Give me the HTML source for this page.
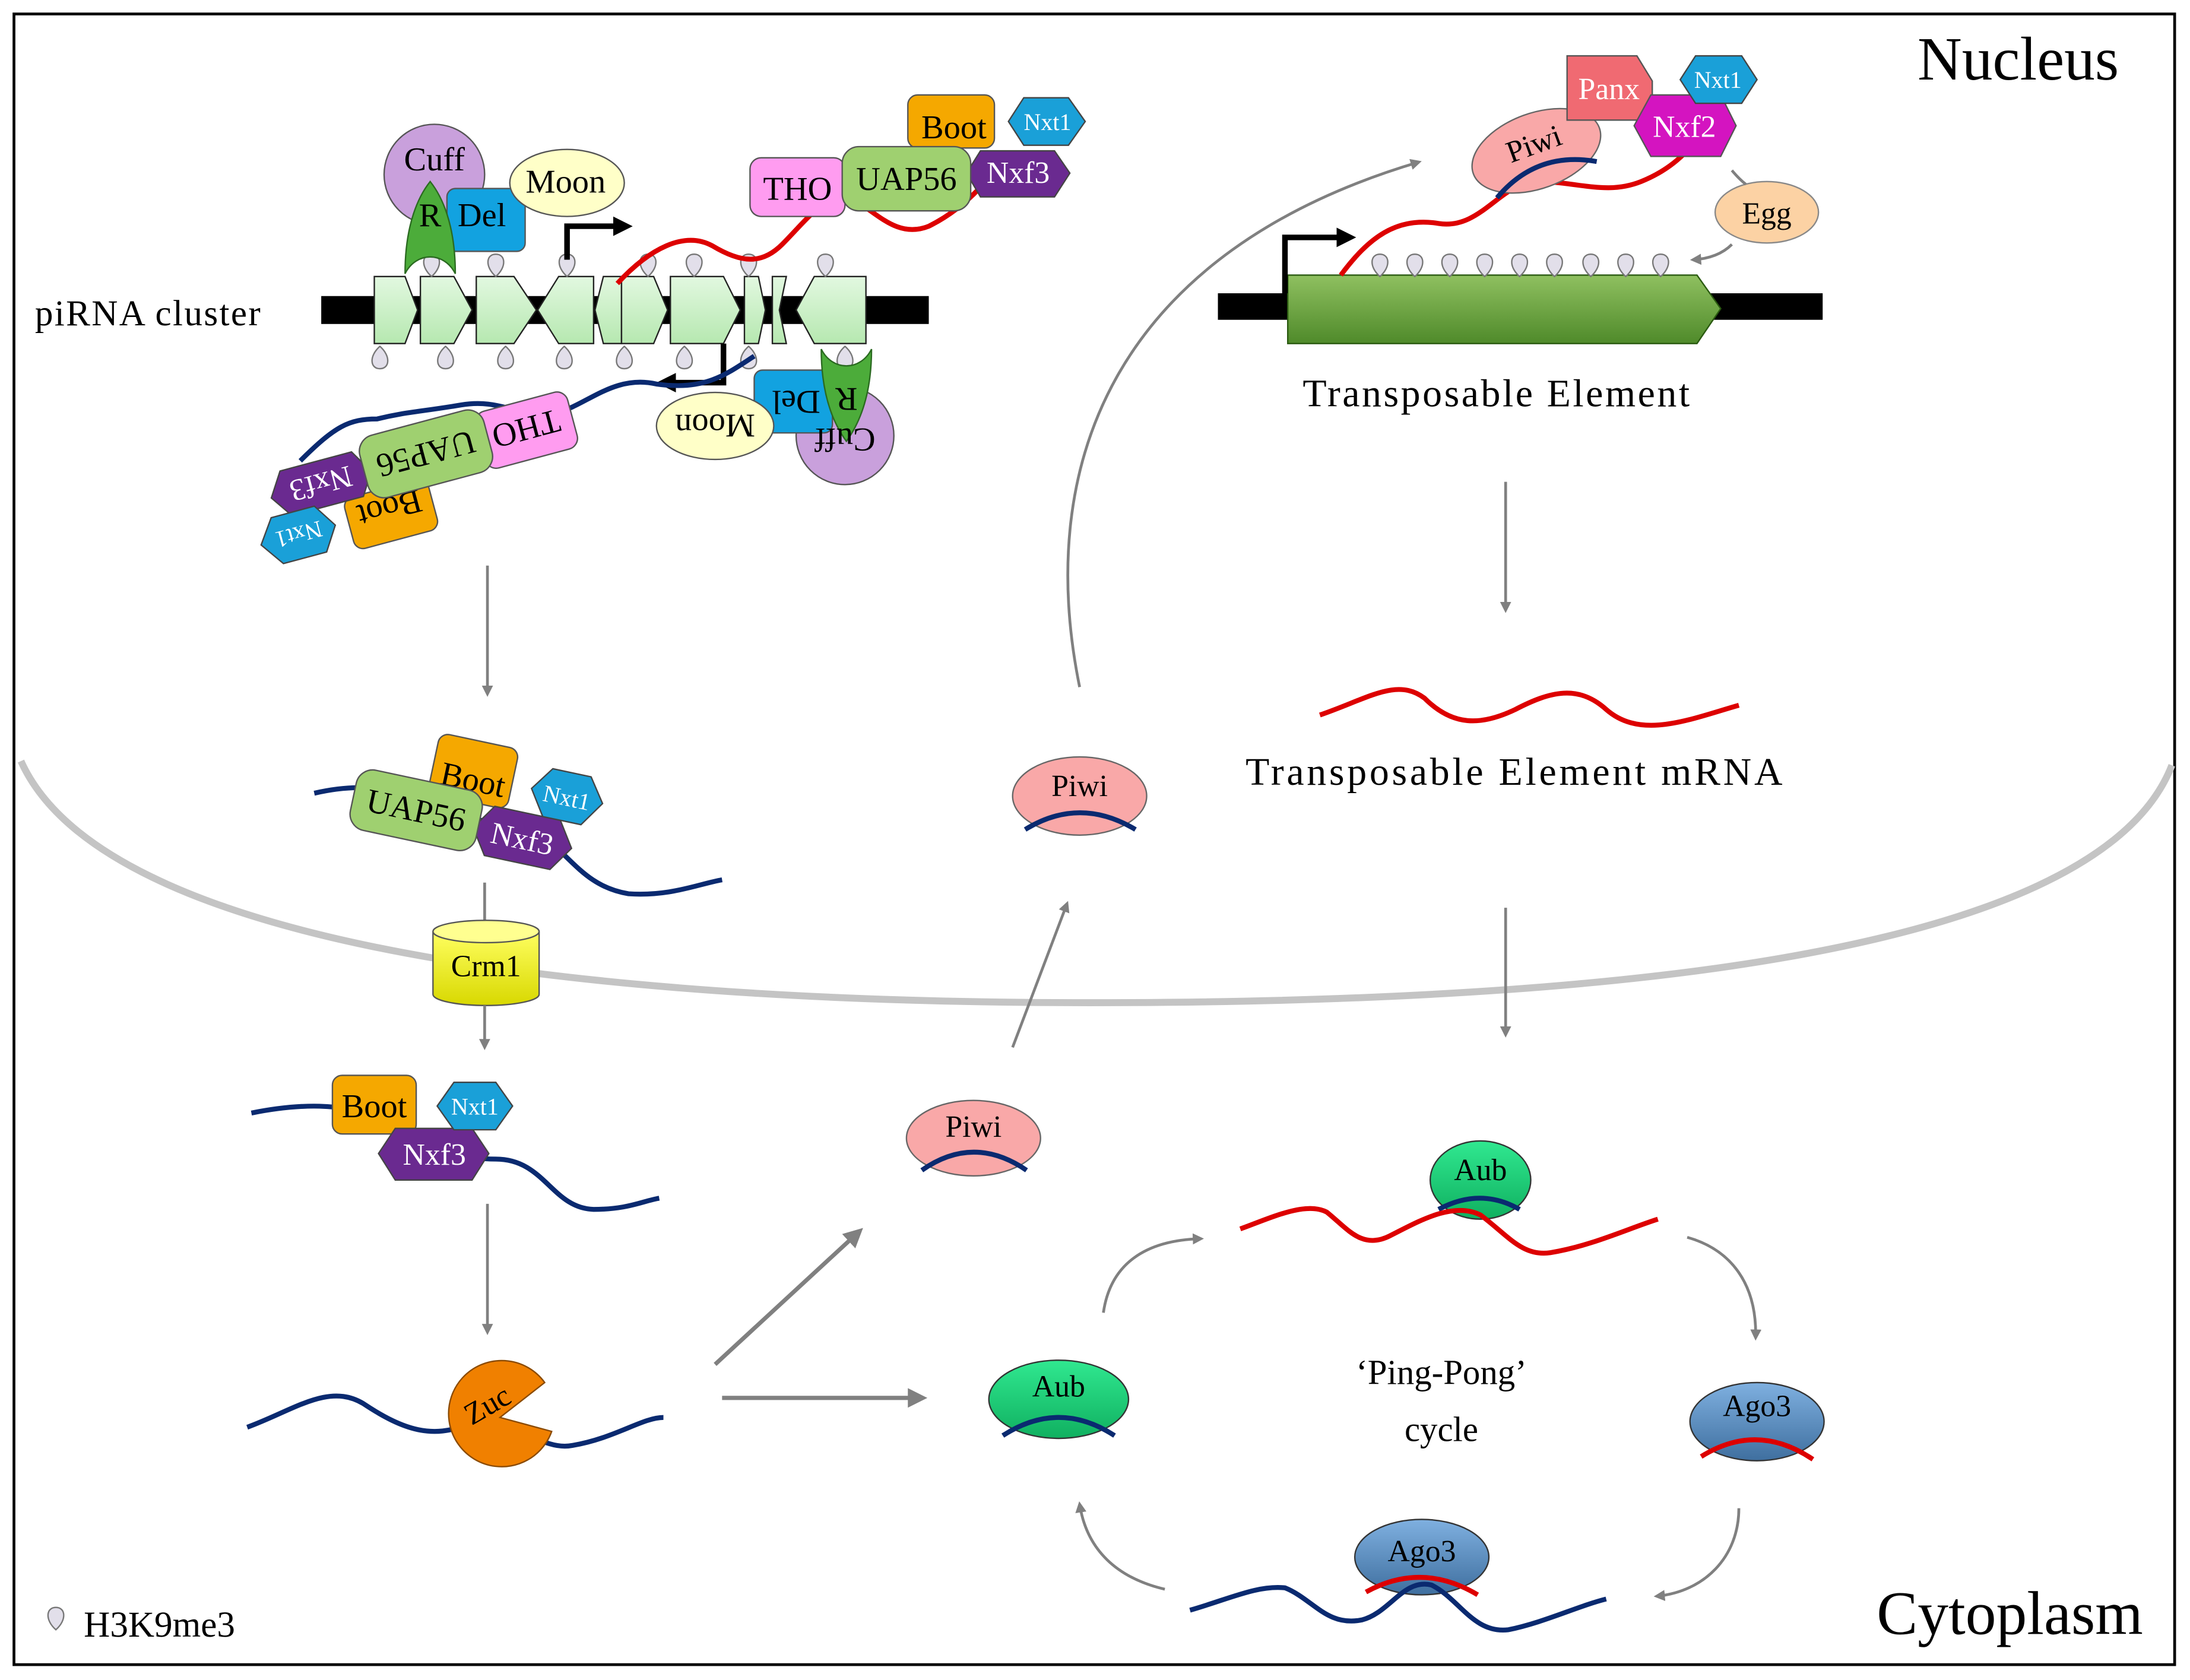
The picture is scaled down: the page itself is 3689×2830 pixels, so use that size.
<!DOCTYPE html>
<html><head><meta charset="utf-8"><style>
html,body{margin:0;padding:0;background:#fff}
svg{display:block}
text{font-family:"Liberation Serif",serif}
</style></head><body>
<svg width="3689" height="2830" viewBox="0 0 1568 1203" preserveAspectRatio="none" xmlns="http://www.w3.org/2000/svg">
<defs>
<marker id="ag" markerWidth="8" markerHeight="8" refX="6" refY="4" orient="auto" markerUnits="userSpaceOnUse"><path d="M0,0 L8,4 L0,8 Z" fill="#808080"/></marker>
<marker id="agb" markerWidth="14" markerHeight="14" refX="10" refY="7" orient="auto" markerUnits="userSpaceOnUse"><path d="M0,0 L14,7 L0,14 Z" fill="#808080"/></marker>
<marker id="ab" markerWidth="14" markerHeight="14" refX="6" refY="7" orient="auto" markerUnits="userSpaceOnUse"><path d="M0,0 L14,7 L0,14 Z" fill="#000"/></marker>
<path id="pd" d="M0,0 C-8,-7 -7,-16 0,-16 C7,-16 8,-7 0,0Z" fill="#e2dfea" stroke="#777" stroke-width="1"/>
<linearGradient id="gr" x1="0" y1="0" x2="0" y2="1"><stop offset="0" stop-color="#e2f8e0"/><stop offset="1" stop-color="#b6e8b0"/></linearGradient>
<linearGradient id="te" x1="0" y1="0" x2="0" y2="1"><stop offset="0" stop-color="#8fc060"/><stop offset="1" stop-color="#4f8a2a"/></linearGradient>
<linearGradient id="ago" x1="0" y1="0" x2="0" y2="1"><stop offset="0" stop-color="#7fb0e0"/><stop offset="1" stop-color="#3f6f9f"/></linearGradient>
<linearGradient id="aub" x1="0" y1="0" x2="0" y2="1"><stop offset="0" stop-color="#30e890"/><stop offset="1" stop-color="#10b060"/></linearGradient>
<linearGradient id="crm" x1="0" y1="0" x2="0" y2="1"><stop offset="0" stop-color="#ffff60"/><stop offset="1" stop-color="#d8d800"/></linearGradient>
</defs>
<rect x="10" y="10" width="1547" height="1182" fill="#fff" stroke="#000" stroke-width="2"/>

<path d="M15,545 C80,690 480,718 780,718 C1120,718 1500,690 1555,548" fill="none" stroke="#c4c4c4" stroke-width="5"/>

<text x="1445" y="57" font-size="44" text-anchor="middle">Nucleus</text>
<text x="1439" y="1170" font-size="44" text-anchor="middle">Cytoplasm</text>

<text x="25" y="233" font-size="26" letter-spacing="1">piRNA cluster</text>
<rect x="230" y="212" width="435" height="20" fill="#000"/>
<g fill="url(#gr)" stroke="#222" stroke-width="1">
<path d="M268,198 H290 L299,222 L290,246 H268 Z"/>
<path d="M301,198 H325 L338,222 L325,246 H301 Z"/>
<path d="M341,198 H368 L384,222 L368,246 H341 Z"/>
<path d="M400,198 H425 V246 H400 L385,222 Z"/>
<path d="M432,198 H445 V246 H432 L426,222 Z"/>
<path d="M445,198 H468 L478,222 L468,246 H445 Z"/>
<path d="M480,198 H518 L530,222 L518,246 H480 Z"/>
<path d="M533,198 H543 L548,222 L543,246 H533 Z"/>
<path d="M553,198 H563 L558,222 L563,246 H553 Z"/>
<path d="M583,198 H620 V246 H583 L570,222 Z"/>
</g>
<g>
<use href="#pd" x="309" y="198"/><use href="#pd" x="355" y="198"/><use href="#pd" x="406" y="198"/>
<use href="#pd" x="464" y="198"/><use href="#pd" x="497" y="198"/><use href="#pd" x="536" y="198"/><use href="#pd" x="591" y="198"/>
<use href="#pd" transform="translate(272,248) rotate(180)"/><use href="#pd" transform="translate(319,248) rotate(180)"/>
<use href="#pd" transform="translate(362,248) rotate(180)"/><use href="#pd" transform="translate(404,248) rotate(180)"/>
<use href="#pd" transform="translate(447,248) rotate(180)"/><use href="#pd" transform="translate(490,248) rotate(180)"/>
<use href="#pd" transform="translate(536,248) rotate(180)"/><use href="#pd" transform="translate(605,248) rotate(180)"/>
</g>
<path d="M406,186 V162 H445" fill="none" stroke="#000" stroke-width="4" marker-end="url(#ab)"/>
<path d="M442,203 C465,178 490,165 510,176 C530,188 545,190 560,175 C575,160 590,140 605,140 C625,148 640,172 665,162 C685,152 700,138 712,122" fill="none" stroke="#d00" stroke-width="3.5"/>
<circle cx="311" cy="125" r="36" fill="#c9a0dc" stroke="#555"/>
<rect x="320" y="135" width="56" height="45" rx="6" fill="#12a2e0" stroke="#555"/>
<ellipse cx="406" cy="131" rx="41" ry="24" fill="#ffffc8" stroke="#555"/>
<path d="M290,196 C290,160 300,140 308,130 C316,140 326,160 326,196 C318,180 298,180 290,196Z" fill="#4cac3a" stroke="#2a6a20"/>
<text x="311" y="122" font-size="24" text-anchor="middle">Cuff</text>
<text x="308" y="162" font-size="24" text-anchor="middle">R</text>
<text x="345" y="162" font-size="24" text-anchor="middle">Del</text>
<text x="405" y="138" font-size="24" text-anchor="middle">Moon</text>
<rect x="537" y="113" width="68" height="42" rx="8" fill="#ff9cf0" stroke="#555"/>
<text x="571" y="143" font-size="24" text-anchor="middle">THO</text>
<rect x="650" y="68" width="62" height="38" rx="7" fill="#f5a800" stroke="#555"/>
<text x="683" y="99" font-size="24" text-anchor="middle">Boot</text>
<polygon points="702,108 755,108 766,124 755,141 702,141 692,124" fill="#6a2a90" stroke="#444"/>
<text x="729" y="131" font-size="22" fill="#fff" text-anchor="middle">Nxf3</text>
<polygon points="733,70 765,70 777,87 765,104 733,104 722,87" fill="#1aa0d8" stroke="#444"/>
<text x="750" y="93" font-size="17" fill="#fff" text-anchor="middle">Nxt1</text>
<rect x="603" y="105" width="92" height="46" rx="12" fill="#9fd070" stroke="#555"/>
<text x="649" y="136" font-size="24" text-anchor="middle">UAP56</text>

<path d="M518,246 V274 H478" fill="none" stroke="#000" stroke-width="4" marker-end="url(#ab)"/>
<path d="M540,255 C520,268 505,280 470,275 C440,268 420,290 400,295 C370,300 360,285 330,290 C300,295 290,295 270,300 C250,300 240,305 215,330" fill="none" stroke="#0a2a70" stroke-width="3.5"/>
<g transform="rotate(165,377,308)">
<rect x="343" y="287" width="68" height="42" rx="8" fill="#ff9cf0" stroke="#555"/>
<text x="377" y="317" font-size="24" text-anchor="middle">THO</text></g>
<g transform="rotate(165,280,368)"><rect x="249" y="349" width="62" height="38" rx="7" fill="#f5a800" stroke="#555"/>
<text x="280" y="380" font-size="24" text-anchor="middle">Boot</text></g>
<g transform="rotate(165,230,347)"><polygon points="203,331 256,331 267,347 256,364 203,364 193,347" fill="#6a2a90" stroke="#444"/>
<text x="230" y="355" font-size="22" fill="#fff" text-anchor="middle">Nxf3</text></g>
<g transform="rotate(165,214,383)"><polygon points="198,366 230,366 242,383 230,400 198,400 187,383" fill="#1aa0d8" stroke="#444"/>
<text x="214" y="389" font-size="17" fill="#fff" text-anchor="middle">Nxt1</text></g>
<g transform="rotate(165,305,325)"><rect x="259" y="302" width="92" height="46" rx="12" fill="#9fd070" stroke="#555"/>
<text x="305" y="333" font-size="24" text-anchor="middle">UAP56</text></g>
<circle cx="605" cy="312" r="35" fill="#c9a0dc" stroke="#555"/>
<rect x="540" y="265" width="56" height="45" rx="6" fill="#12a2e0" stroke="#555"/>
<ellipse cx="512" cy="305" rx="42" ry="24" fill="#ffffc8" stroke="#555"/>
<path d="M588,250 C588,285 598,305 606,316 C614,305 624,285 624,250 C616,266 596,266 588,250Z" fill="#4cac3a" stroke="#2a6a20"/>
<g transform="rotate(180,605,315)"><text x="605" y="323" font-size="24" text-anchor="middle">Cuff</text></g>
<g transform="rotate(180,606,286)"><text x="606" y="294" font-size="24" text-anchor="middle">R</text></g>
<g transform="rotate(180,570,288)"><text x="570" y="296" font-size="24" text-anchor="middle">Del</text></g>
<g transform="rotate(180,512,305)"><text x="512" y="313" font-size="24" text-anchor="middle">Moon</text></g>

<line x1="349" y1="405" x2="349" y2="497" stroke="#808080" stroke-width="2" marker-end="url(#ag)"/>
<path d="M225,568 C260,560 280,565 300,575 C330,590 360,585 390,600 C410,615 420,635 450,640 C480,642 500,633 517,630" fill="none" stroke="#0a2a70" stroke-width="3.5"/>
<g transform="rotate(12,338,552)"><rect x="310" y="530" width="58" height="44" rx="7" fill="#f5a800" stroke="#555"/>
<text x="340" y="566" font-size="24" text-anchor="middle">Boot</text></g>
<g transform="rotate(12,374,600)"><polygon points="350,582 398,582 410,600 398,618 350,618 338,600" fill="#6a2a90" stroke="#444"/>
<text x="374" y="608" font-size="22" fill="#fff" text-anchor="middle">Nxf3</text></g>
<g transform="rotate(12,406,570)"><polygon points="392,553 420,553 432,570 420,588 392,588 380,570" fill="#1aa0d8" stroke="#444"/>
<text x="406" y="577" font-size="17" fill="#fff" text-anchor="middle">Nxt1</text></g>
<g transform="rotate(12,297,580)"><rect x="252" y="558" width="92" height="44" rx="12" fill="#9fd070" stroke="#555"/>
<text x="298" y="588" font-size="24" text-anchor="middle">UAP56</text></g>
<line x1="347" y1="632" x2="347" y2="662" stroke="#808080" stroke-width="2"/>
<path d="M310,667 V712 A38,8 0 0 0 386,712 V667" fill="url(#crm)" stroke="#555"/>
<ellipse cx="348" cy="667" rx="38" ry="8" fill="#ffff90" stroke="#555"/>
<text x="348" y="699" font-size="22" text-anchor="middle">Crm1</text>
<line x1="347" y1="720" x2="347" y2="750" stroke="#808080" stroke-width="2" marker-end="url(#ag)"/>

<path d="M180,797 C215,790 245,790 270,800 C300,815 320,830 355,830 C390,830 395,865 425,866 C450,866 460,860 472,858" fill="none" stroke="#0a2a70" stroke-width="3.5"/>
<rect x="238" y="770" width="60" height="42" rx="7" fill="#f5a800" stroke="#555"/>
<text x="268" y="800" font-size="24" text-anchor="middle">Boot</text>
<polygon points="283,808 338,808 350,826 338,845 283,845 271,826" fill="#6a2a90" stroke="#444"/>
<text x="311" y="834" font-size="22" fill="#fff" text-anchor="middle">Nxf3</text>
<polygon points="325,775 355,775 367,792 355,809 325,809 313,792" fill="#1aa0d8" stroke="#444"/>
<text x="340" y="798" font-size="17" fill="#fff" text-anchor="middle">Nxt1</text>
<line x1="349" y1="862" x2="349" y2="954" stroke="#808080" stroke-width="2" marker-end="url(#ag)"/>

<path d="M177,1022 C210,1010 235,990 260,1005 C290,1025 310,1030 335,1020 C365,1010 385,1040 410,1035 C440,1030 460,1015 475,1015" fill="none" stroke="#0a2a70" stroke-width="3.5"/>
<path d="M358,1015 L390,990 A38,38 0 1 0 395,1025 Z" fill="#f08000" stroke="#8a4a00"/>
<text x="350" y="1013" font-size="22" text-anchor="middle" transform="rotate(-30,350,1008)">Zuc</text>

<line x1="512" y1="977" x2="615" y2="882" stroke="#808080" stroke-width="3" marker-end="url(#agb)"/>
<line x1="517" y1="1001" x2="660" y2="1001" stroke="#808080" stroke-width="3" marker-end="url(#agb)"/>

<ellipse cx="697" cy="815" rx="48" ry="27" fill="#f9a8a8" stroke="#666"/>
<text x="697" y="814" font-size="22" text-anchor="middle">Piwi</text>
<path d="M660,838 Q697,812 735,838" fill="none" stroke="#0a2a70" stroke-width="3.5"/>
<line x1="725" y1="750" x2="764" y2="647" stroke="#808080" stroke-width="2" marker-end="url(#ag)"/>
<ellipse cx="773" cy="570" rx="48" ry="28" fill="#f9a8a8" stroke="#666"/>
<text x="773" y="570" font-size="22" text-anchor="middle">Piwi</text>
<path d="M734,594 Q773,570 813,594" fill="none" stroke="#0a2a70" stroke-width="3.5"/>
<path d="M773,492 C740,330 800,180 1016,116" fill="none" stroke="#808080" stroke-width="2" marker-end="url(#ag)"/>

<rect x="872" y="210" width="433" height="19" fill="#000"/>
<path d="M922,197 H1215 L1232,221 L1215,246 H922 Z" fill="url(#te)" stroke="#2a5a10"/>
<path d="M920,210 V170 H963" fill="none" stroke="#000" stroke-width="4" marker-end="url(#ab)"/>
<g>
<use href="#pd" x="988" y="198"/><use href="#pd" x="1013" y="198"/><use href="#pd" x="1038" y="198"/><use href="#pd" x="1063" y="198"/>
<use href="#pd" x="1088" y="198"/><use href="#pd" x="1113" y="198"/><use href="#pd" x="1139" y="198"/><use href="#pd" x="1164" y="198"/><use href="#pd" x="1189" y="198"/>
</g>
<path d="M960,197 C980,170 1000,155 1030,160 C1060,165 1075,130 1100,130 C1130,130 1150,140 1175,130 C1200,120 1210,105 1218,98" fill="none" stroke="#d00" stroke-width="3.5"/>
<g transform="rotate(-20,1100,108)">
<ellipse cx="1100" cy="108" rx="48" ry="27" fill="#f9a8a8" stroke="#666"/>
<text x="1100" y="110" font-size="22" text-anchor="middle">Piwi</text>
<path d="M1062,130 Q1100,108 1138,130" fill="none" stroke="#0a2a70" stroke-width="3.5"/></g>
<path d="M1122,40 H1172 L1183,58 V86 H1122 Z" fill="#f06a72" stroke="#555"/>
<text x="1152" y="71" font-size="22" fill="#fff" text-anchor="middle">Panx</text>
<polygon points="1182,68 1232,68 1243,90 1232,112 1182,112 1170,90" fill="#d414c0" stroke="#555"/>
<text x="1206" y="98" font-size="22" fill="#fff" text-anchor="middle">Nxf2</text>
<polygon points="1214,40 1247,40 1258,57 1247,74 1214,74 1203,57" fill="#1aa0d8" stroke="#444"/>
<text x="1230" y="63" font-size="17" fill="#fff" text-anchor="middle">Nxt1</text>
<ellipse cx="1265" cy="152" rx="37" ry="22" fill="#fcd2a4" stroke="#888"/>
<text x="1265" y="160" font-size="22" text-anchor="middle">Egg</text>
<path d="M1240,122 Q1245,128 1250,132" fill="none" stroke="#808080" stroke-width="2"/>
<path d="M1240,175 Q1230,185 1212,186" fill="none" stroke="#808080" stroke-width="2" marker-end="url(#ag)"/>
<text x="1072" y="291" font-size="28" letter-spacing="1.5" text-anchor="middle">Transposable Element</text>
<line x1="1078" y1="345" x2="1078" y2="437" stroke="#808080" stroke-width="2" marker-end="url(#ag)"/>
<path d="M945,512 C980,500 1000,485 1020,500 C1040,520 1060,520 1085,508 C1110,495 1130,490 1150,508 C1175,530 1210,515 1245,505" fill="none" stroke="#d00" stroke-width="3.5"/>
<text x="1085" y="562" font-size="28" letter-spacing="2" text-anchor="middle">Transposable Element mRNA</text>
<line x1="1078" y1="650" x2="1078" y2="741" stroke="#808080" stroke-width="2" marker-end="url(#ag)"/>

<ellipse cx="758" cy="1002" rx="50" ry="28" fill="url(#aub)" stroke="#333"/>
<text x="758" y="1000" font-size="22" text-anchor="middle">Aub</text>
<path d="M718,1028 Q758,1002 798,1028" fill="none" stroke="#0a2a70" stroke-width="3.5"/>
<ellipse cx="1060" cy="845" rx="36" ry="28" fill="url(#aub)" stroke="#333"/>
<text x="1060" y="845" font-size="22" text-anchor="middle">Aub</text>
<path d="M1030,866 Q1060,850 1088,866" fill="none" stroke="#0a2a70" stroke-width="3.5"/>
<path d="M888,880 C910,872 935,860 950,868 C965,880 975,895 995,885 C1015,875 1040,860 1060,870 C1080,885 1090,900 1110,897 C1140,892 1165,880 1187,873" fill="none" stroke="#d00" stroke-width="3.5"/>
<ellipse cx="1258" cy="1018" rx="48" ry="28" fill="url(#ago)" stroke="#333"/>
<text x="1258" y="1014" font-size="22" text-anchor="middle">Ago3</text>
<path d="M1218,1043 Q1258,1018 1298,1045" fill="none" stroke="#d00" stroke-width="3.5"/>
<ellipse cx="1018" cy="1115" rx="48" ry="27" fill="url(#ago)" stroke="#333"/>
<text x="1018" y="1118" font-size="22" text-anchor="middle">Ago3</text>
<path d="M852,1153 C880,1145 900,1135 920,1137 C940,1145 950,1165 975,1160 C995,1155 1005,1130 1025,1135 C1045,1145 1055,1170 1080,1167 C1105,1162 1130,1150 1150,1145" fill="none" stroke="#0a2a70" stroke-width="3.5"/>
<path d="M978,1140 Q1018,1118 1058,1142" fill="none" stroke="#d00" stroke-width="3.5"/>
<text x="1032" y="991" font-size="25" text-anchor="middle">‘Ping-Pong’</text>
<text x="1032" y="1032" font-size="25" text-anchor="middle">cycle</text>
<path d="M790,940 C795,905 820,888 860,887" fill="none" stroke="#808080" stroke-width="2" marker-end="url(#ag)"/>
<path d="M1208,886 C1240,895 1258,920 1257,958" fill="none" stroke="#808080" stroke-width="2" marker-end="url(#ag)"/>
<path d="M1245,1080 C1245,1115 1220,1140 1186,1143" fill="none" stroke="#808080" stroke-width="2" marker-end="url(#ag)"/>
<path d="M834,1138 C800,1130 778,1110 773,1077" fill="none" stroke="#808080" stroke-width="2" marker-end="url(#ag)"/>

<use href="#pd" transform="translate(40,1167) rotate(0)"/>
<text x="60" y="1172" font-size="26">H3K9me3</text>
</svg>
</body></html>
